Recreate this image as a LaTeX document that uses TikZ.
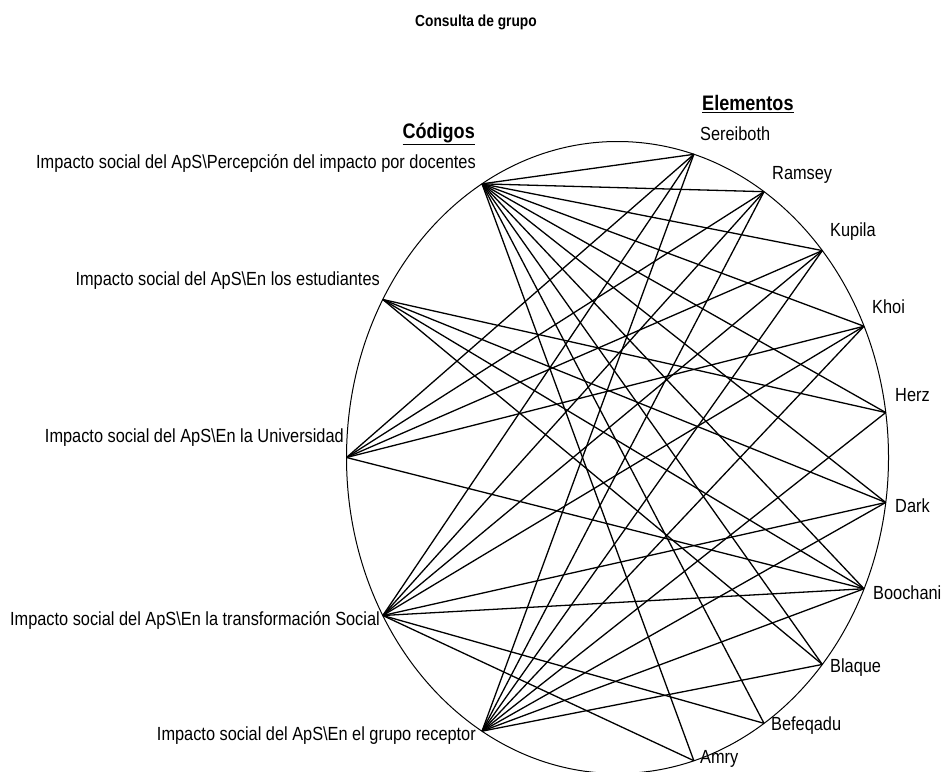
\documentclass[tikz,border=0pt]{standalone}
\usepackage{fontspec}
\setmainfont{Liberation Sans}
\newfontfamily\narrowfont{Liberation Sans}[FakeStretch=0.86]
\begin{document}
\begin{tikzpicture}[x=1pt,y=-1pt,
  lbl/.style={font=\narrowfont\fontsize{19}{21}\selectfont, inner sep=0pt},
  hdr/.style={font=\narrowfont\fontsize{21}{23}\selectfont\bfseries, inner sep=0pt},
  ttl/.style={font=\narrowfont\fontsize{16}{18}\selectfont\bfseries, inner sep=0pt},
  link/.style={line width=1.3pt, black},
  rim/.style={line width=1pt, black},
  pt/.style={coordinate}]
\useasboundingbox (0,0) rectangle (941,771);
\def\cx{617.5}\def\cy{457.5}\def\rx{271}\def\ry{316}
\draw[rim] (\cx,\cy) ellipse [x radius=271pt, y radius=316pt];
% elements
\foreach \n [count=\i] in {S,R,K,Kh,H,D,Bo,Bl,Be,A}{
  \node[pt] (\n) at ({\cx+\rx*cos(90-\i*180/11)},{\cy-\ry*sin(90-\i*180/11)}) {};
}
% codes
\foreach \n/\a in {C1/120,C2/150,C3/180,C4/210,C5/240}{
  \node[pt] (\n) at ({\cx+\rx*cos(\a)},{\cy-\ry*sin(\a)}) {};
}
% edges
\foreach \e in {S,R,K,Kh,H,D,Bo,Bl,Be,A} \draw[link] (C1) -- (\e);
\foreach \e in {H,D,Bo,Bl} \draw[link] (C2) -- (\e);
\foreach \e in {S,R,K,Kh,Bo} \draw[link] (C3) -- (\e);
\foreach \e in {S,R,K,Kh,D,Bo,Be,A} \draw[link] (C4) -- (\e);
\foreach \e in {S,R,K,Kh,H,D,Bo,Bl} \draw[link] (C5) -- (\e);
% labels
\node[ttl] (title) at (476,22) {Consulta de grupo};
\node[hdr, anchor=west] (hElem) at (702,104) {\underline{Elementos}};
\node[hdr, anchor=east] (hCod) at (475,134) {\underline{Códigos}};
\node[lbl, anchor=east] (lC1) at (476,163) {Impacto social del ApS\textbackslash Percepción del impacto por docentes};
\node[lbl, anchor=east] (lC2) at (380,281) {Impacto social del ApS\textbackslash En los estudiantes};
\node[lbl, anchor=east] (lC3) at (344,438) {Impacto social del ApS\textbackslash En la Universidad};
\node[lbl, anchor=east] (lC4) at (380,620) {Impacto social del ApS\textbackslash En la transformación Social};
\node[lbl, anchor=east] (lC5) at (476,736) {Impacto social del ApS\textbackslash En el grupo receptor};
\node[lbl, anchor=west] (lS) at (700,134) {Sereiboth};
\node[lbl, anchor=west] (lR) at (772,175) {Ramsey};
\node[lbl, anchor=west] (lK) at (830,232) {Kupila};
\node[lbl, anchor=west] (lKh) at (872,307) {Khoi};
\node[lbl, anchor=west] (lH) at (895,395) {Herz};
\node[lbl, anchor=west] (lD) at (895,506) {Dark};
\node[lbl, anchor=west] (lBo) at (873,593) {Boochani};
\node[lbl, anchor=west] (lBl) at (830,668) {Blaque};
\node[lbl, anchor=west] (lBe) at (771,726) {Befeqadu};
\node[lbl, anchor=west] (lA) at (700,759) {Amry};
\end{tikzpicture}
\end{document}
